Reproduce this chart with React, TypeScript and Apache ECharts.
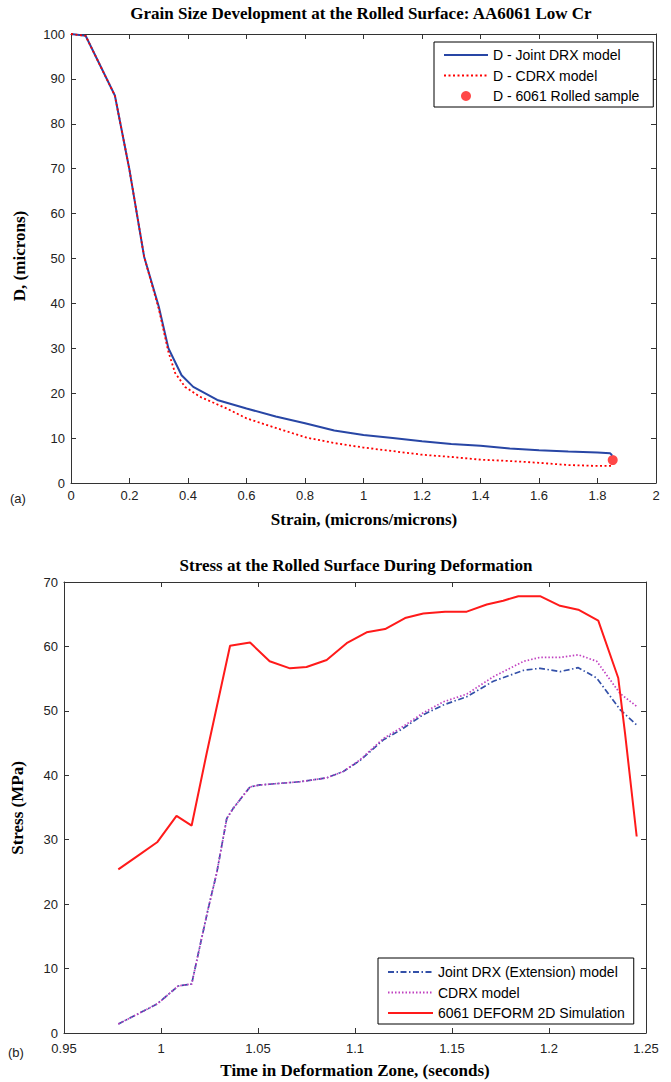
import React, { useEffect, useRef } from "react";
import * as echarts from "echarts";

// ---------- Panel (a): grain size vs strain ----------
const strainJoint = [0, 0.05, 0.15, 0.2, 0.25, 0.3, 0.333, 0.378, 0.418, 0.5, 0.6, 0.7, 0.8, 0.9, 1.0, 1.1, 1.2, 1.3, 1.4, 1.5, 1.6, 1.7, 1.8, 1.843, 1.85];
const dJoint = [100, 99.6, 86.3, 69.7, 50.4, 39.3, 30.0, 24.0, 21.4, 18.5, 16.6, 14.8, 13.3, 11.7, 10.7, 10.0, 9.3, 8.7, 8.3, 7.7, 7.3, 7.0, 6.8, 6.6, 6.2];

const strainCdrx = [0, 0.05, 0.15, 0.2, 0.25, 0.3, 0.333, 0.356, 0.39, 0.441, 0.532, 0.6, 0.703, 0.806, 0.9, 1.0, 1.1, 1.2, 1.3, 1.4, 1.5, 1.6, 1.7, 1.8, 1.85];
const dCdrx = [100, 99.6, 86.3, 69.7, 50.4, 38.8, 29.2, 24.5, 21.4, 19.2, 16.6, 14.4, 12.2, 10.1, 8.9, 7.9, 7.1, 6.3, 5.8, 5.2, 4.9, 4.5, 4.0, 3.8, 3.8];

const sampleStrain = [1.852];
const sampleD = [5.1];

// ---------- Panel (b): stress vs time ----------
const timeDeform = [0.978, 0.988, 0.998, 1.008, 1.0158, 1.0236, 1.0356, 1.0459, 1.056, 1.0665, 1.075, 1.0854, 1.0957, 1.106, 1.1155, 1.1258, 1.1352, 1.1464, 1.1576, 1.1679, 1.1764, 1.1842, 1.1954, 1.2057, 1.2151, 1.2254, 1.2357, 1.2392, 1.2452];
const stressDeform = [25.4, 27.5, 29.6, 33.7, 32.2, 43.5, 60.1, 60.6, 57.7, 56.6, 56.8, 57.9, 60.5, 62.2, 62.7, 64.4, 65.1, 65.4, 65.4, 66.5, 67.1, 67.8, 67.8, 66.3, 65.7, 64.0, 55.1, 46.5, 30.5];

const timeJoint = [0.978, 0.989, 0.998, 1.0089, 1.0158, 1.02, 1.0244, 1.0287, 1.0339, 1.0373, 1.0459, 1.051, 1.0717, 1.0854, 1.094, 1.1026, 1.1146, 1.1249, 1.1352, 1.1455, 1.1576, 1.1713, 1.187, 1.1954, 1.2057, 1.2151, 1.2246, 1.2366, 1.2452];
const stressJoint = [1.4, 3.1, 4.5, 7.3, 7.6, 13.4, 19.4, 24.8, 33.3, 34.9, 38.2, 38.5, 39.0, 39.6, 40.6, 42.3, 45.5, 47.3, 49.4, 50.9, 52.2, 54.6, 56.3, 56.6, 56.1, 56.7, 55.1, 50.2, 47.8];

const timeCdrx = [0.978, 0.989, 0.998, 1.0089, 1.0158, 1.02, 1.0244, 1.0287, 1.0339, 1.0373, 1.0459, 1.051, 1.0717, 1.0854, 1.094, 1.1026, 1.1146, 1.1249, 1.1352, 1.1455, 1.1576, 1.1713, 1.187, 1.1954, 1.2057, 1.2151, 1.2246, 1.2366, 1.2452];
const stressCdrx = [1.4, 3.1, 4.5, 7.3, 7.6, 13.4, 19.4, 24.8, 33.3, 34.9, 38.2, 38.5, 39.0, 39.6, 40.6, 42.4, 45.7, 47.6, 49.7, 51.4, 52.6, 55.3, 57.7, 58.3, 58.3, 58.7, 57.7, 52.7, 50.7];

const SANS = "'Liberation Sans', Arial, sans-serif";
const SERIF = "'Liberation Serif', 'Times New Roman', serif";

const zip = (xs: number[], ys: number[]) => xs.map((x, i) => [x, ys[i]]);
const fmt = (d: number) => (v: number) => String(Math.round(v * Math.pow(10, d)) / Math.pow(10, d));

const lineStyle = { color: "#333", width: 1 };

function makeAxis(gridIndex: number, position: string, min: number, max: number, interval: number, labels: boolean, formatter?: (v: number) => string, margin = 6) {
  return {
    gridIndex,
    type: "value",
    position,
    min,
    max,
    interval,
    axisLine: { show: true, onZero: false, lineStyle },
    axisTick: { show: true, inside: true, length: 5, lineStyle },
    axisLabel: {
      show: labels,
      margin,
      color: "#222",
      fontSize: 13,
      fontFamily: SANS,
      formatter,
    },
    splitLine: { show: false },
  };
}

const serifBold = `bold 17px ${SERIF}`;

export default function App() {
  const ref = useRef<HTMLDivElement>(null);

  useEffect(() => {
    document.body.style.margin = "0";
    const chart = echarts.init(ref.current!, null, { renderer: "svg" });

    const legendText = { fontSize: 14, fontFamily: SANS, color: "#000", lineHeight: 14 };

    chart.setOption({
      animation: false,
      backgroundColor: "#fff",
      grid: [
        { left: 71, top: 34, width: 585, height: 449 },
        { left: 64, top: 582, width: 582, height: 451 },
      ],
      xAxis: [
        makeAxis(0, "bottom", 0, 2, 0.2, true, fmt(1), 6),
        makeAxis(0, "top", 0, 2, 0.2, false),
        makeAxis(1, "bottom", 0.95, 1.25, 0.05, true, fmt(2), 9),
        makeAxis(1, "top", 0.95, 1.25, 0.05, false),
      ],
      yAxis: [
        makeAxis(0, "left", 0, 100, 10, true),
        makeAxis(0, "right", 0, 100, 10, false),
        makeAxis(1, "left", 0, 70, 10, true),
        makeAxis(1, "right", 0, 70, 10, false),
      ],
      legend: [
        {
          orient: "vertical",
          left: 434,
          top: 42,
          padding: [6, 14, 4, 9],
          itemWidth: 44,
          itemHeight: 10,
          itemGap: 6.5,
          borderColor: "#000",
          borderWidth: 1,
          backgroundColor: "#fff",
          textStyle: legendText,
          data: [
            { name: "D - Joint DRX model", itemStyle: { opacity: 0 } },
            { name: "D - CDRX model", itemStyle: { opacity: 0 } },
            { name: "D - 6061 Rolled sample" },
          ],
        },
        {
          orient: "vertical",
          left: 378,
          top: 958,
          padding: [7, 9, 4, 9],
          itemWidth: 45,
          itemHeight: 10,
          itemGap: 6.5,
          borderColor: "#000",
          borderWidth: 1,
          backgroundColor: "#fff",
          textStyle: legendText,
          data: [
            { name: "Joint DRX (Extension) model", itemStyle: { opacity: 0 } },
            { name: "CDRX model", itemStyle: { opacity: 0 } },
            { name: "6061 DEFORM 2D Simulation", itemStyle: { opacity: 0 } },
          ],
        },
      ],
      series: [
        {
          name: "D - Joint DRX model",
          type: "line",
          xAxisIndex: 0,
          yAxisIndex: 0,
          data: zip(strainJoint, dJoint),
          symbol: "none",
          showSymbol: false,
          color: "#2846a5",
          lineStyle: { color: "#2846a5", width: 2 },
        },
        {
          name: "D - CDRX model",
          type: "line",
          xAxisIndex: 0,
          yAxisIndex: 0,
          data: zip(strainCdrx, dCdrx),
          symbol: "none",
          showSymbol: false,
          color: "#ff0000",
          lineStyle: { color: "#ff0000", width: 1.8, type: [2, 2.5] },
        },
        {
          name: "D - 6061 Rolled sample",
          type: "scatter",
          xAxisIndex: 0,
          yAxisIndex: 0,
          data: zip(sampleStrain, sampleD),
          symbol: "circle",
          symbolSize: 10,
          color: "#ff1a1a",
          itemStyle: { color: "#ff1a1a" },
        },
        {
          name: "Joint DRX (Extension) model",
          type: "line",
          xAxisIndex: 2,
          yAxisIndex: 2,
          data: zip(timeJoint, stressJoint),
          symbol: "none",
          showSymbol: false,
          color: "#3350a8",
          lineStyle: { color: "#3350a8", width: 1.7, type: [6, 2.5, 1.5, 2.5] },
        },
        {
          name: "CDRX model",
          type: "line",
          xAxisIndex: 2,
          yAxisIndex: 2,
          data: zip(timeCdrx, stressCdrx),
          symbol: "none",
          showSymbol: false,
          color: "#c040c0",
          lineStyle: { color: "#c040c0", width: 1.7, type: [1.5, 2] },
        },
        {
          name: "6061 DEFORM 2D Simulation",
          type: "line",
          xAxisIndex: 2,
          yAxisIndex: 2,
          data: zip(timeDeform, stressDeform),
          symbol: "none",
          showSymbol: false,
          color: "#ff1a1a",
          lineStyle: { color: "#ff1a1a", width: 2 },
        },
      ],
      graphic: [
        {
          type: "text",
          x: 361,
          y: 13,
          style: { text: "Grain Size Development at the Rolled Surface: AA6061 Low Cr", fill: "#000", font: serifBold, textAlign: "center", textVerticalAlign: "middle" },
        },
        {
          type: "text",
          x: 19,
          y: 256,
          rotation: Math.PI / 2,
          style: { text: "D, (microns)", fill: "#000", font: serifBold, textAlign: "center", textVerticalAlign: "middle" },
        },
        {
          type: "text",
          x: 364,
          y: 519,
          style: { text: "Strain, (microns/microns)", fill: "#000", font: serifBold, textAlign: "center", textVerticalAlign: "middle" },
        },
        {
          type: "text",
          x: 10,
          y: 498,
          style: { text: "(a)", fill: "#222", font: `13px ${SANS}`, textAlign: "left", textVerticalAlign: "middle" },
        },
        {
          type: "text",
          x: 356,
          y: 565,
          style: { text: "Stress at the Rolled Surface During Deformation", fill: "#000", font: serifBold, textAlign: "center", textVerticalAlign: "middle" },
        },
        {
          type: "text",
          x: 17,
          y: 808,
          rotation: Math.PI / 2,
          style: { text: "Stress (MPa)", fill: "#000", font: serifBold, textAlign: "center", textVerticalAlign: "middle" },
        },
        {
          type: "text",
          x: 355,
          y: 1070,
          style: { text: "Time in Deformation Zone, (seconds)", fill: "#000", font: serifBold, textAlign: "center", textVerticalAlign: "middle" },
        },
        {
          type: "text",
          x: 8,
          y: 1052,
          style: { text: "(b)", fill: "#222", font: `13px ${SANS}`, textAlign: "left", textVerticalAlign: "middle" },
        },
      ],
    });

    return () => chart.dispose();
  }, []);

  return <div ref={ref} style={{ position: "absolute", left: 0, top: 0, width: 671, height: 1082 }} />;
}
